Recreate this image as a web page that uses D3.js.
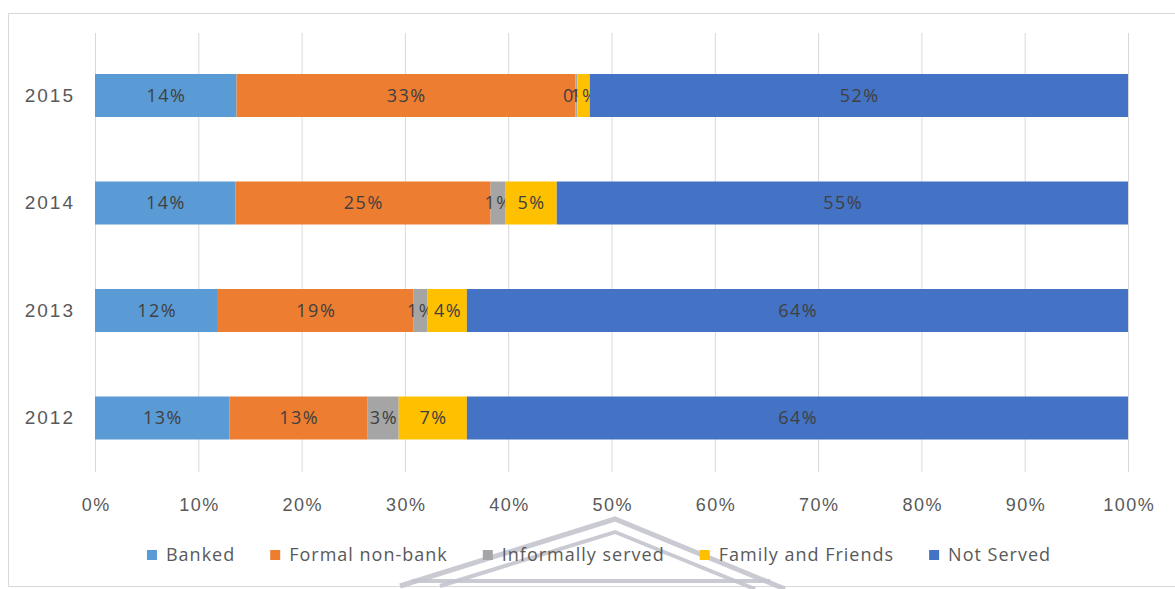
<!DOCTYPE html>
<html>
<head>
<meta charset="utf-8">
<script src="https://cdn.jsdelivr.net/npm/d3@7"></script>
<style>
  html, body { margin: 0; padding: 0; background: #fff; }
  svg { display: block; font-family: "Open Sans", "Liberation Sans", sans-serif; }
</style>
</head>
<body>
<svg id="chart" width="1175" height="589"></svg>
<script>
// Share of adults by access to financial services, per year (percent)
const years = ["2015", "2014", "2013", "2012"];
const seriesNames = ["Banked", "Formal non-bank", "Informally served", "Family and Friends", "Not Served"];
const banked       = [13.7, 13.6, 11.9, 13.0];
const formalNonBank = [32.8, 24.7, 18.9, 13.4];
const informal     = [0.2, 1.4, 1.4, 3.0];
const familyFriends = [1.2, 5.0, 3.8, 6.6];
const notServed    = [52.1, 55.3, 64.0, 64.0];
const xTicks = [0, 10, 20, 30, 40, 50, 60, 70, 80, 90, 100];
const colors = ["#5B9BD5", "#ED7D31", "#A5A5A5", "#FFC000", "#4472C4"];

const svg = d3.select("#chart");
const W = 1175, H = 589;
const left = 95, right = 1128, gridTop = 33, gridBottom = 472;

// chart frame
svg.append("rect")
  .attr("x", 8.5).attr("y", 13.5)
  .attr("width", W + 20).attr("height", 573)
  .attr("fill", "#fff").attr("stroke", "#d9d9d9").attr("stroke-width", 1);

const x = d3.scaleLinear().domain([0, 100]).range([left, right]);
const y = d3.scaleBand().domain(years).range([41.75, 471.75])
  .paddingInner(0.6).paddingOuter(0.3);

// vertical gridlines + percent labels
const xAxis = d3.axisBottom(x)
  .tickValues(xTicks)
  .tickSize(-(gridBottom - gridTop))
  .tickFormat(d => d + "%");
const gx = svg.append("g")
  .attr("transform", `translate(0,${gridBottom})`)
  .call(xAxis);
gx.select(".domain").remove();
gx.selectAll(".tick line").attr("stroke", "#d9d9d9").attr("stroke-width", 1);
gx.selectAll(".tick text")
  .attr("y", 39).attr("dy", "0")
  .attr("dx", "0.75")
  .attr("fill", "#595959")
  .style("font-size", "18px")
  .style("letter-spacing", "1.5px");

// year labels
const yAxis = d3.axisLeft(y).tickSize(0).tickPadding(20);
const gy = svg.append("g").attr("transform", `translate(${left},0)`).call(yAxis);
gy.select(".domain").remove();
gy.selectAll(".tick text")
  .attr("fill", "#595959")
  .style("font-size", "19px")
  .style("letter-spacing", "2px");

// stacked data
const rows = years.map((yr, i) => ({
  year: yr,
  "Banked": banked[i],
  "Formal non-bank": formalNonBank[i],
  "Informally served": informal[i],
  "Family and Friends": familyFriends[i],
  "Not Served": notServed[i]
}));
const stacked = d3.stack().keys(seriesNames)(rows);

const layers = svg.append("g").selectAll("g")
  .data(stacked).join("g")
  .attr("fill", (d, i) => colors[i]);

layers.selectAll("rect")
  .data(d => d.map(p => ({ p, key: d.key })))
  .join("rect")
  .attr("x", d => x(d.p[0]))
  .attr("y", d => y(d.p.data.year))
  .attr("width", d => x(d.p[1]) - x(d.p[0]))
  .attr("height", y.bandwidth());

// data labels centred on each segment
const fmt = v => d3.format(".0f")(v) + "%";
layers.selectAll("text")
  .data(d => d.map(p => ({ p, key: d.key })))
  .join("text")
  .attr("x", d => (x(d.p[0]) + x(d.p[1])) / 2 + 0.75)
  .attr("y", d => y(d.p.data.year) + y.bandwidth() / 2)
  .attr("dy", "0.35em")
  .attr("text-anchor", "middle")
  .attr("fill", "#404040")
  .style("font-size", "18px")
  .style("letter-spacing", "1.5px")
  .text(d => fmt(d.p[1] - d.p[0]));

// faint pediment emblem behind the legend
const emblem = svg.append("g").attr("fill", "none").attr("stroke", "#c4c4ce").attr("stroke-opacity", 0.9);
const roofOuter = [[400, 586], [615, 519], [785, 589]];
const roofInner = [[440, 586], [615, 532], [755, 589]];
emblem.append("path").attr("d", d3.line()(roofOuter)).attr("stroke-width", 5);
emblem.append("path").attr("d", d3.line()(roofInner)).attr("stroke-width", 4);
emblem.append("line").attr("x1", 412).attr("x2", 770).attr("y1", 581).attr("y2", 581).attr("stroke-width", 4);

// legend
const legend = svg.append("g");
const items = legend.selectAll("g").data(seriesNames).join("g");
items.append("rect")
  .attr("width", 10).attr("height", 10)
  .attr("y", -5)
  .attr("fill", (d, i) => colors[i]);
items.append("text")
  .attr("x", 19).attr("dy", "0.35em")
  .attr("fill", "#595959")
  .style("font-size", "18px")
  .style("letter-spacing", "1px")
  .text(d => d);
let cursor = 0;
const offsets = [];
items.each(function () {
  const w = 19 + this.querySelector("text").getComputedTextLength();
  offsets.push(cursor);
  cursor += w + 35;
});
const totalW = cursor - 35;
const startX = 599 - totalW / 2;
items.attr("transform", (d, i) => `translate(${startX + offsets[i]},555)`);
</script>
</body>
</html>
